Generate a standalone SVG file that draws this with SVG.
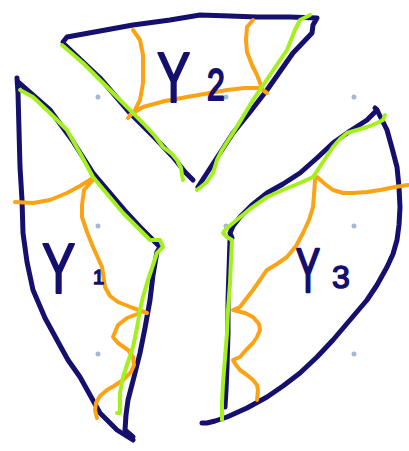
<svg xmlns="http://www.w3.org/2000/svg" width="409" height="451" viewBox="0 0 409 451">
<style>
.n{fill:none;stroke:#150f6e;stroke-width:5;stroke-linecap:round;stroke-linejoin:round}
.o{fill:none;stroke:#fba315;stroke-width:4;stroke-linecap:round;stroke-linejoin:round}
.g{fill:none;stroke:#a3f01c;stroke-width:4;stroke-linecap:round;stroke-linejoin:round}
.d{fill:#a8b8d0}
.t{font-family:"Liberation Sans",Arial,sans-serif;fill:#150f6e;stroke:#150f6e;stroke-width:1.5;stroke-linejoin:round}
</style>
<rect width="409" height="451" fill="#ffffff"/>
<g id="dots">
<circle class="d" cx="98" cy="97" r="2.5"/><circle class="d" cx="226" cy="97" r="2.5"/><circle class="d" cx="354" cy="97" r="2.5"/>
<circle class="d" cx="98" cy="226" r="2.5"/><circle class="d" cx="226" cy="226" r="2.5"/><circle class="d" cx="354" cy="226" r="2.5"/>
<circle class="d" cx="98" cy="354" r="2.5"/><circle class="d" cx="226" cy="354" r="2.5"/><circle class="d" cx="354" cy="354" r="2.5"/>
</g>
<g id="piece-top">
<path class="n" d="M63,42 L67,37 L100,31 L133,25 L170,20 L200,15 L230,16 L257,17 L290,17 L317,18 L313,25 L312,33 L293,53 L267,90 L250,112 L233,133 L220,153 L207,173 L198,187"/>
<path class="n" d="M64,44 L100,78 L130,113 L155,138 L173,157 L185,172 L193,180"/>
<path class="o" d="M133,30 L140,40 L143,55 L143,83 L140,100 L135,110 L128,118 M130,115 L143,107 L165,101 L187,97 L210,93 L227,90 L245,88 L260,88 L267,93"/>
<path class="o" d="M253,20 L247,27 L246,40 L247,52 L252,65 L257,75 L262,88"/>
<path class="g" d="M62,45 L83,63 L100,80 L117,97 L130,110 L143,123 L155,136 L163,147 L172,154 L177,160 L181,168 L182,175 L183,180"/>
<path class="g" d="M197,190 L207,182 L213,173 L217,160 L222,150 L238,125 L253,100 L270,75 L287,50 L295,30 L300,20 L310,15"/>
<text class="t" font-size="50" transform="translate(157,102) scale(1,1.4)">Y</text>
<text class="t" font-size="32" transform="translate(207,100) scale(1,1.4)">2</text>
</g>
<g id="piece-left">
<path class="n" d="M17,78 L18,93 L19,130 L20,167 L22,200 L23,233 L27,262 L33,290 L45,318 L57,340 L68,360 L80,377 L90,395 L100,413 L117,430 L133,440"/>
<path class="n" d="M18,82 L50,110 L72,140 L93,173 L110,193 L127,213 L140,227 L153,240 L160,247 L157,252 L153,275 L150,300 L145,328 L140,353 L134,377 L128,400 L126,415 L125,430 L133,437"/>
<path class="o" d="M15,202 L33,203 L50,200 L67,193 L80,186 L93,178 M93,180 L84,190 L82,205 L82,217 L87,232 L93,247 L102,267 L104,280 L105,287 L110,296 L118,302 L133,308 L147,313"/>
<path class="o" d="M140,313 L127,318 L118,325 L113,337 L118,343 L128,350 L133,357 L134,365 L131,372 L123,380 L114,386 L107,390 L100,396 L96,403 L95,410 L97,418"/>
<path class="g" d="M20,90 L33,97 L50,113 L67,130 L80,153 L93,177 L108,195 L123,213 L137,227 L150,240 L156,240 L160,240 L163,247 L157,253 L152,268 L147,283 L143,297 L140,310 L137,328 L133,347 L128,362 L123,377 L120,393 L120,405 L120,413 L117,413"/>
<text class="t" font-size="50" transform="translate(42,293) scale(1,1.4)">Y</text>
<text class="t" font-size="20" transform="translate(93,284)">1</text>
</g>
<g id="piece-right">
<path class="n" d="M375,108 L377,110 L367,120 L350,131 L333,143 L317,158 L300,173 L283,184 L267,193 L252,205 L240,217 L233,226 L230,233 L232,238 L230,240 L229,270 L228,300 L228,333 L227,367 L226,390 L225,407"/>
<path class="n" d="M377,110 L387,130 L392,148 L397,167 L399,187 L400,207 L399,225 L397,240 L393,254 L387,267 L377,285 L367,300 L350,320 L333,340 L317,357 L300,373 L283,386 L267,397 L247,408 L227,417 L215,421 L207,423 L202,423"/>
<path class="o" d="M317,177 L325,184 L333,190 L343,193 L353,193 L367,192 L380,190 L395,187 L408,185"/>
<path class="o" d="M315,180 L314,195 L313,207 L309,220 L303,233 L296,246 L287,257 L277,264 L267,270 L264,274 L260,280 L253,290 L246,299 L240,307 L233,310 L245,313 L253,317 L259,324 L260,330 L257,337 L253,343 L246,350 L240,357 L233,360 L236,365 L240,370 L247,375 L253,380 L257,385 L258,390 L257,400"/>
<path class="g" d="M385,115 L383,120 L375,124 L367,127 L357,130 L347,133 L340,139 L333,147 L323,162 L313,177 L300,183 L285,189 L267,197 L250,209 L233,223 L226,229 L223,233 L227,237 L232,240 L231,260 L230,283 L228,310 L227,333 L225,358 L223,383 L222,403 L222,420"/>
<text class="t" font-size="36" transform="translate(296,292) scale(1,1.75)">Y</text>
<text class="t" font-size="32" transform="translate(332,288)">3</text>
</g>
</svg>
